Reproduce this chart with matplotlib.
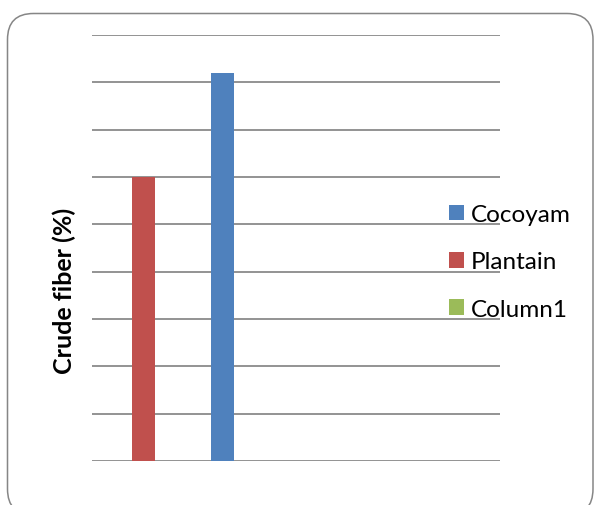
import matplotlib.pyplot as plt
from matplotlib.patches import FancyBboxPatch, Patch

# --- Data ---
series = ["Cocoyam", "Plantain", "Column1"]
crude_fiber = [8.2, 6.0, 0.0]
series_colors = ["#4F81BD", "#C0504D", "#9BBB59"]
y_max = 9

# slot each series bar is drawn in (Plantain first, then Cocoyam)
bar_slot = {"Plantain": 0, "Cocoyam": 1}

plt.rcParams['font.family'] = ['Lato', 'DejaVu Sans']

W, H = 594, 506
fig = plt.figure(figsize=(W / 100, H / 100), dpi=100)

# rounded chart-area frame, runs off the bottom edge
frame = FancyBboxPatch((7.5, -10), 585.5, 491.5 + 10,
                       boxstyle="round,pad=0,rounding_size=26",
                       transform=None, facecolor="none",
                       edgecolor="#868686", linewidth=1.1)
fig.patches.append(frame)

ax = fig.add_axes([92 / W, (H - 462) / H, 408 / W, 426 / H])

for name, val, col in zip(series, crude_fiber, series_colors):
    if name in bar_slot and val > 0:
        ax.bar(bar_slot[name], val, width=0.29, color=col, zorder=3)

ax.set_xlim(-0.652, 4.511)
ax.set_ylim(0, y_max)
ax.set_yticks(range(0, y_max + 1))
ax.yaxis.grid(True, color="#8a8a8a", linewidth=1.3)
ax.set_axisbelow(True)
ax.tick_params(left=False, bottom=False, labelleft=False, labelbottom=False)
for s in ax.spines.values():
    s.set_visible(False)

fig.text(64 / W, (H - 291) / H, "Crude fiber (%)", rotation=90,
         ha="center", va="center", fontsize=18, fontweight="bold")

handles = [Patch(facecolor=c, edgecolor="none") for c in series_colors]
fig.legend(handles, series, loc="center left",
           bbox_to_anchor=(449 / W, (H - 263) / H), frameon=False,
           fontsize=17.5, handlelength=0.6, handleheight=0.6,
           handletextpad=0.3, labelspacing=1.08, borderpad=0,
           borderaxespad=0)

fig.savefig("out.png", dpi=100)
